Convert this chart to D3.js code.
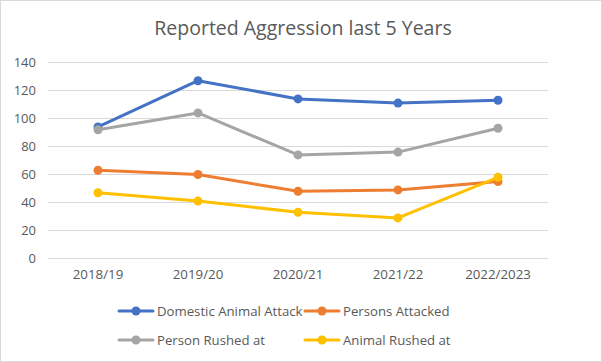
<!DOCTYPE html>
<html>
<head>
<meta charset="utf-8">
<script src="https://cdn.jsdelivr.net/npm/d3@7"></script>
<style>
  body { margin: 0; background: #fff; }
  text { font-family: "Open Sans", "Liberation Sans", sans-serif; }
</style>
</head>
<body>
<div id="chart"></div>
<script>
var years = ["2018/19", "2019/20", "2020/21", "2021/22", "2022/2023"];
var domesticAnimalAttack = [94, 127, 114, 111, 113];
var personsAttacked = [63, 60, 48, 49, 55];
var personRushedAt = [92, 104, 74, 76, 93];
var animalRushedAt = [47, 41, 33, 29, 58];
var yTicks = [0, 20, 40, 60, 80, 100, 120, 140];

var series = [
  { name: "Domestic Animal Attack", values: domesticAnimalAttack, color: "#4472C4" },
  { name: "Persons Attacked", values: personsAttacked, color: "#ED7D31" },
  { name: "Person Rushed at", values: personRushedAt, color: "#A5A5A5" },
  { name: "Animal Rushed at", values: animalRushedAt, color: "#FFC000" }
];

var width = 602, height = 362;
var margin = { left: 48, right: 54, top: 62, bottom: 104 };

var svg = d3.select("#chart").append("svg")
  .attr("width", width)
  .attr("height", height);

// chart border
svg.append("rect")
  .attr("x", 0.5).attr("y", 0.5)
  .attr("width", width - 1).attr("height", height - 1)
  .attr("fill", "#fff")
  .attr("stroke", "#d9d9d9");

svg.append("text")
  .attr("x", 303)
  .attr("y", 35)
  .attr("text-anchor", "middle")
  .attr("font-size", 19.5)
  .attr("fill", "#595959")
  .text("Reported Aggression last 5 Years");

var x = d3.scaleBand()
  .domain(years)
  .range([margin.left, width - margin.right]);

var y = d3.scaleLinear()
  .domain([0, 140])
  .range([258.5, 62.5]);

// gridlines
svg.append("g")
  .selectAll("line")
  .data(yTicks)
  .enter().append("line")
  .attr("x1", margin.left)
  .attr("x2", width - margin.right)
  .attr("y1", function(d) { return y(d); })
  .attr("y2", function(d) { return y(d); })
  .attr("stroke", "#d9d9d9")
  .attr("stroke-width", 1);

var yAxis = svg.append("g")
  .attr("transform", "translate(" + 36 + ",0)")
  .call(d3.axisLeft(y).tickValues(yTicks).tickSize(0).tickPadding(0));
yAxis.select(".domain").remove();
yAxis.selectAll("text")
  .attr("font-size", 13)
  .attr("fill", "#595959")
  .attr("font-family", "'Open Sans', sans-serif");

var xAxis = svg.append("g")
  .attr("transform", "translate(0," + 270 + ")")
  .call(d3.axisBottom(x).tickSize(0).tickPadding(0));
xAxis.select(".domain").remove();
xAxis.selectAll("text")
  .attr("font-size", 13.3)
  .attr("fill", "#595959")
  .attr("font-family", "'Open Sans', sans-serif");

var line = d3.line()
  .x(function(d, i) { return x(years[i]) + x.bandwidth() / 2; })
  .y(function(d) { return y(d); });

series.forEach(function(s) {
  var g = svg.append("g");
  g.append("path")
    .attr("d", line(s.values))
    .attr("fill", "none")
    .attr("stroke", s.color)
    .attr("stroke-width", 3)
    .attr("stroke-linejoin", "round")
    .attr("stroke-linecap", "round");
  g.selectAll("circle")
    .data(s.values)
    .enter().append("circle")
    .attr("cx", function(d, i) { return x(years[i]) + x.bandwidth() / 2; })
    .attr("cy", function(d) { return y(d); })
    .attr("r", 4.5)
    .attr("fill", s.color);
});

// legend
var legendPos = [[119, 311], [305, 311], [119, 340], [305, 340]];
series.forEach(function(s, i) {
  var p = legendPos[i];
  var g = svg.append("g").attr("transform", "translate(" + p[0] + "," + p[1] + ")");
  g.append("line")
    .attr("x1", 0).attr("x2", 34)
    .attr("y1", 0).attr("y2", 0)
    .attr("stroke", s.color)
    .attr("stroke-width", 3)
    .attr("stroke-linecap", "round");
  g.append("circle")
    .attr("cx", 17).attr("cy", 0).attr("r", 4.5)
    .attr("fill", s.color);
  g.append("text")
    .attr("x", 38).attr("y", 0)
    .attr("dy", "0.35em")
    .attr("font-size", 13.2)
    .attr("fill", "#595959")
    .text(s.name);
});
</script>
</body>
</html>
